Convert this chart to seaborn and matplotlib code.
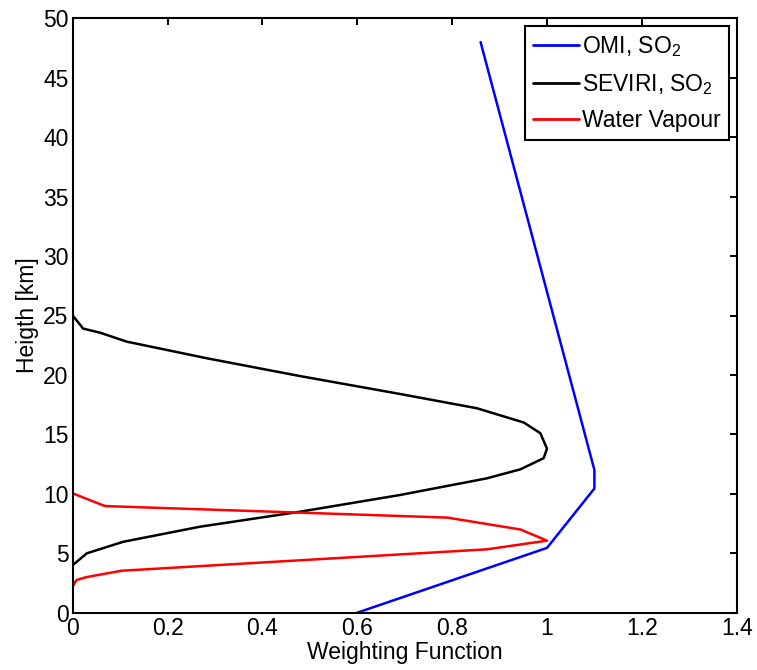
import numpy as np
import pandas as pd
import seaborn as sns
from matplotlib import pyplot as plt

# weighting function profiles (x = weight, y = height in km)
omi_w = [0.60, 1.00, 1.10, 1.10, 0.86]
omi_h = [0.0, 5.45, 10.45, 12.0, 48.0]

seviri_w = [0.0, 0.022, 0.058, 0.114, 0.283, 0.48, 0.69, 0.852, 0.951, 0.986,
            1.0, 0.993, 0.944, 0.873, 0.69, 0.48, 0.268, 0.107, 0.03, 0.0]
seviri_h = [25.0, 23.9, 23.55, 22.8, 21.4, 19.9, 18.4, 17.2, 16.0, 15.1,
            13.8, 13.0, 12.06, 11.3, 9.9, 8.5, 7.23, 5.97, 5.0, 4.0]

wv_w = [0.0, 0.0, 0.008, 0.03, 0.103, 0.873, 1.0, 0.944, 0.79, 0.068, 0.0]
wv_h = [0.5, 2.2, 2.75, 3.0, 3.53, 5.33, 6.06, 7.0, 8.0, 8.97, 10.04]

labels = ["OMI, SO$_2$", "SEVIRI, SO$_2$", "Water Vapour"]
colors = ["#0000ff", "#000000", "#ff0000"]

frames = []
for lab, w, h in zip(labels, [omi_w, seviri_w, wv_w], [omi_h, seviri_h, wv_h]):
    frames.append(pd.DataFrame({"w": w, "h": h, "series": lab}))
df = pd.concat(frames, ignore_index=True)

sns.set_style("white", {"text.color": "black", "axes.labelcolor": "black",
                        "xtick.color": "black", "ytick.color": "black",
                        "axes.edgecolor": "black"})
plt.rcParams["font.family"] = ["Liberation Sans", "DejaVu Sans"]
plt.rcParams["mathtext.default"] = "regular"

fs = 16.5
fig = plt.figure(figsize=(7.57, 6.70), dpi=100)
ax = fig.add_axes([72.7 / 757, 1 - 612.7 / 670, (736.7 - 72.7) / 757, (612.7 - 18.3) / 670])

sns.lineplot(data=df, x="w", y="h", hue="series", units="series",
             palette=dict(zip(labels, colors)), hue_order=labels,
             sort=False, estimator=None, linewidth=1.8, ax=ax)

ax.set_xlim(0, 1.4)
ax.set_ylim(0, 50)
ax.set_xticks(np.arange(0, 1.41, 0.2))
ax.set_xticklabels(["0", "0.2", "0.4", "0.6", "0.8", "1", "1.2", "1.4"])
ax.set_yticks(np.arange(0, 51, 5))
ax.tick_params(direction="in", length=5, width=1.4, labelsize=fs,
               top=True, right=True, colors="black", pad=3)
for s in ax.spines.values():
    s.set_visible(True)
    s.set_linewidth(1.5)
    s.set_color("black")

ax.set_xlabel("Weighting Function", fontsize=fs, labelpad=1)
ax.set_ylabel("Heigth [km]", fontsize=fs, labelpad=3)

leg = ax.legend(loc="upper right", fontsize=fs, handlelength=2.0,
                handletextpad=0.12, labelspacing=0.55, borderaxespad=0.35,
                borderpad=0.35, fancybox=False, framealpha=1)
leg.get_frame().set_edgecolor("black")
leg.get_frame().set_linewidth(1.5)
for line in leg.get_lines():
    line.set_linewidth(2)

plt.savefig("out.png", dpi=100)
